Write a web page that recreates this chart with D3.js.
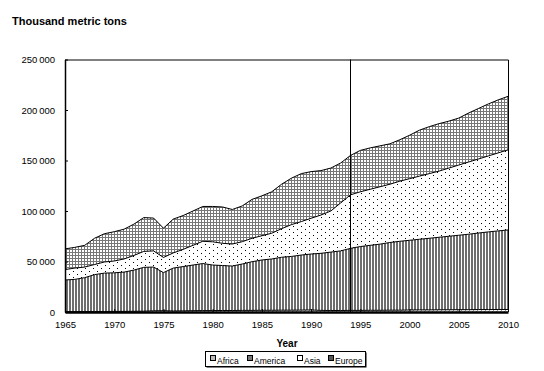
<!DOCTYPE html>
<html><head><meta charset="utf-8">
<script src="https://cdn.jsdelivr.net/npm/d3@7"></script>
<style>body{margin:0;background:#fff;} text{font-family:Arial,"Liberation Sans",sans-serif;}</style>
</head><body>
<svg id="c" width="544" height="371"></svg>
<script>
const years = d3.range(1965, 2011);
const africa = [400,400,500,500,500,600,600,700,800,1200,1300,1000,1100,1300,1400,1400,1500,1500,1600,1600,1700,1700,1800,1800,1900,2000,1600,1500,1500,1600,1600,1700,1700,1800,1800,2000,2100,2100,2200,2200,2300,2300,2400,2400,2500,2500];
const america = [31300,31900,33500,36500,38000,38200,38900,40800,43400,43300,37700,42500,43900,45200,46600,45100,44500,44000,45900,48200,49800,50800,52400,53200,54500,55400,56500,57800,59000,61400,63200,64300,65500,67000,68200,69000,69900,70900,71800,72800,73700,74700,75800,76900,77800,78700];
const asia = [10300,11200,10500,10000,11000,11700,13000,14500,15800,16000,15000,15000,17000,19500,22000,23000,22000,21800,22100,23200,24000,25500,28300,31500,33100,35400,37900,40700,47500,53000,54200,55500,56800,57700,59500,61000,62500,64000,65500,67500,69500,71500,73300,75200,77200,79300];
const europe = [20500,20500,21500,26000,28000,29000,29500,31000,33500,32500,29000,33500,33500,34000,34500,35000,36000,34200,35400,38500,39500,41000,44000,46000,47500,46200,44000,42500,39500,39000,41000,41000,40500,40000,41000,43000,45500,46500,47000,46500,46500,48500,50000,51500,52500,53000];
const seriesNames = ["Africa","America","Asia","Europe"];
const yTicks = [0,50000,100000,150000,200000,250000];
const xTicks = [1965,1970,1975,1980,1985,1990,1995,2000,2005,2010];
const markerYear = 1994;

const rows = years.map((yr,i)=>({year:yr, Africa:africa[i], America:america[i], Asia:asia[i], Europe:europe[i]}));
const svg = d3.select("#c");
const x = d3.scaleLinear().domain([1965,2010]).range([65,508]);
const y = d3.scaleLinear().domain([0,250000]).range([312,59.5]);

const defs = svg.append("defs");
let p = defs.append("pattern").attr("id","pAfrica").attr("width",4).attr("height",4).attr("patternUnits","userSpaceOnUse");
p.append("rect").attr("width",4).attr("height",4).attr("fill","#fff");
p.append("path").attr("d","M0,4L4,0").attr("stroke","#999").attr("stroke-width",1);
p = defs.append("pattern").attr("id","pAmerica").attr("width",3).attr("height",3).attr("patternUnits","userSpaceOnUse");
p.append("rect").attr("width",3).attr("height",3).attr("fill","#fff");
p.append("rect").attr("x",0).attr("width",2).attr("height",3).attr("fill","#6e6e6e");
p = defs.append("pattern").attr("id","pAsia").attr("width",8).attr("height",6).attr("patternUnits","userSpaceOnUse");
p.append("rect").attr("width",8).attr("height",6).attr("fill","#fff");
p.append("rect").attr("x",1).attr("y",1).attr("width",1).attr("height",1).attr("fill","#000");
p.append("rect").attr("x",5).attr("y",4).attr("width",1).attr("height",1).attr("fill","#000");
p = defs.append("pattern").attr("id","pEurope").attr("width",3).attr("height",3).attr("patternUnits","userSpaceOnUse");
p.append("rect").attr("width",3).attr("height",3).attr("fill","#fff");
p.append("rect").attr("x",0).attr("y",0).attr("width",3).attr("height",1).attr("fill","#777");
p.append("rect").attr("x",0).attr("y",0).attr("width",1).attr("height",3).attr("fill","#777");

const stack = d3.stack().keys(seriesNames)(rows);
const area = d3.area().x(d=>x(d.data.year)).y0(d=>y(d[0])).y1(d=>y(d[1]));
const line = d3.line().x(d=>x(d.data.year)).y(d=>y(d[1]));

svg.append("g").selectAll("path").data(stack).join("path")
  .attr("d",area).attr("fill",d=>"url(#p"+d.key+")").attr("stroke","none");
svg.append("g").selectAll("path").data(stack).join("path")
  .attr("d",line).attr("fill","none").attr("stroke","#000").attr("stroke-width",1);

svg.append("path").attr("d",`M${x(1965)},${y(250000)+0.5}H${x(2010)+0.5}V${y(0)}`).attr("fill","none").attr("stroke","#000");
svg.append("line").attr("x1",Math.round(x(markerYear))+0.5).attr("x2",Math.round(x(markerYear))+0.5)
  .attr("y1",y(250000)).attr("y2",y(0)).attr("stroke","#000");

const ya = svg.append("g").attr("transform",`translate(${x(1965)},0)`)
  .call(d3.axisLeft(y).tickValues(yTicks).tickSizeInner(-3).tickSizeOuter(0)
    .tickFormat(d=>d===0?"0":d3.format(",")(d).replace(/,/g,"\u2009")));
ya.select(".domain").attr("stroke","#000").attr("stroke-width",1.5);
ya.selectAll("text").attr("x",-10).attr("font-size","9.5px").attr("fill","#000").attr("font-family","Arial, Liberation Sans, sans-serif");
ya.selectAll(".tick line").attr("stroke","#000");

const xa = svg.append("g").attr("transform",`translate(0,${y(0)})`)
  .call(d3.axisBottom(x).tickValues(xTicks).tickSizeInner(-3).tickSizeOuter(0).tickFormat(d3.format("d")));
xa.select(".domain").attr("stroke","#000").attr("stroke-width",2.5);
xa.selectAll("text").attr("y",9).attr("font-size","9.5px").attr("fill","#000").attr("font-family","Arial, Liberation Sans, sans-serif");
xa.selectAll(".tick line").attr("stroke","#000");

svg.append("text").attr("x",12).attr("y",25).attr("font-size","11px").attr("font-weight","bold").text("Thousand metric tons");
svg.append("text").attr("x",287).attr("y",347).attr("text-anchor","middle").attr("font-size","10px").attr("font-weight","bold").text("Year");

const lg = svg.append("g");
lg.append("rect").attr("x",206.5).attr("y",352.5).attr("width",160).attr("height",15).attr("fill","#000");
lg.append("rect").attr("x",205.5).attr("y",351.5).attr("width",160).attr("height",15).attr("fill","#fff").attr("stroke","#000");
const legX = [210,247,297,328];
const legFill = {Africa:"#bbb",America:"#777",Asia:"#fff",Europe:"#555"};
const items = lg.selectAll("g.it").data(seriesNames).join("g").attr("class","it")
  .attr("transform",(d,i)=>`translate(${legX[i]},0)`);
items.append("rect").attr("x",0.5).attr("y",355.5).attr("width",5).attr("height",5).attr("fill",d=>legFill[d]).attr("stroke","#000");
items.append("text").attr("x",7).attr("y",364).attr("font-size","8.5px").text(d=>d);
</script>
</body></html>
